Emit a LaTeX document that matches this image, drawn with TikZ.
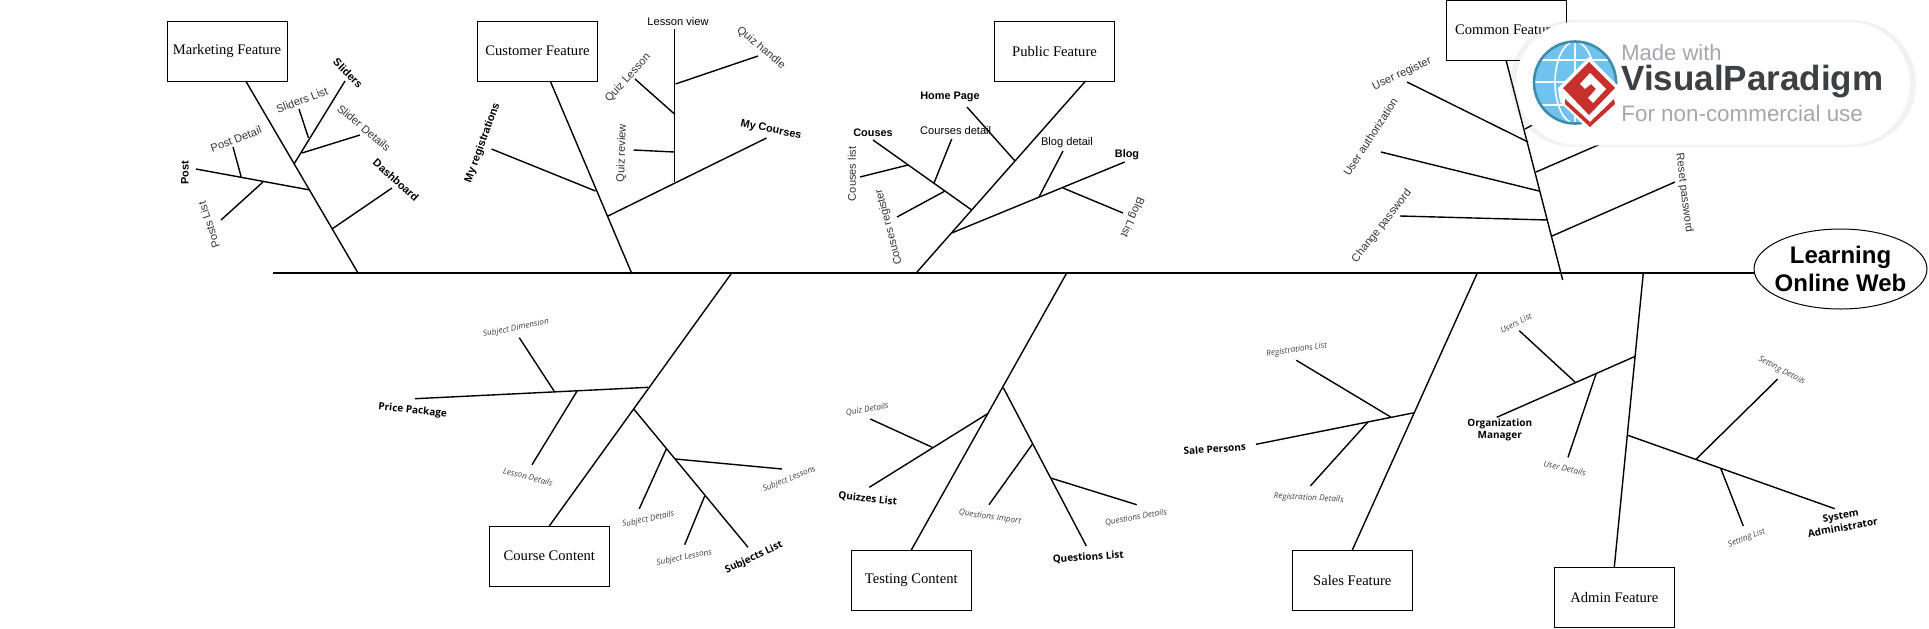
\documentclass[tikz,border=0pt]{standalone}
\usepackage{fontspec}
\setmainfont{Liberation Sans}
\newfontfamily\boxfont{Liberation Serif}
\newfontfamily\opensans{Open Sans}
\usetikzlibrary{shapes.geometric,shadows}
\definecolor{vpblue}{HTML}{6FC3EE}
\definecolor{vpring}{HTML}{3F8CAB}
\definecolor{vpred}{HTML}{C8302E}
\definecolor{vpdark}{HTML}{3C4043}
\definecolor{vpgray}{HTML}{A4A8AC}
\tikzset{
  boxnode/.style={draw,line width=.5pt,minimum width=60pt,minimum height=30pt,inner sep=0pt,outer sep=0pt,font=\boxfont\fontsize{7.3}{9}\selectfont},
  lbl/.style={inner sep=0pt,text=black!80,font=\fontsize{5.55}{7}\selectfont},
  lblb/.style={inner sep=0pt,font=\bfseries\fontsize{5.45}{7}\selectfont},
  sub/.style={inner sep=0pt,text=black!75,font=\opensans\itshape\fontsize{4.1}{5}\selectfont},
  subb/.style={inner sep=0pt,align=center,font=\opensans\bfseries\fontsize{5}{6}\selectfont},
  bone/.style={line width=.7pt}
}
\begin{document}
\begin{tikzpicture}[x=0.5pt,y=-0.5pt]
\useasboundingbox (0,0) rectangle (1929,628);
\coordinate (tail) at (273,273);
\node[ellipse,draw,line width=.5pt,minimum width=86.5pt,minimum height=40pt,inner sep=0pt,align=center,font=\bfseries\fontsize{12}{14}\selectfont] (web) at (1840.5,269) {\makebox[58pt]{Learning}\\\makebox[58pt]{Online Web}};
\draw[bone] (tail)--(tail -| web.west);
\node[boxnode] (marketing) at (227,51) {Marketing Feature};
\node[boxnode] (customer) at (537.5,51) {Customer Feature};
\node[boxnode] (public) at (1054.5,51) {Public Feature};
\node[boxnode] (common) at (1506,30) {Common Feature};
\node[boxnode] (course) at (549.3,556) {Course Content};
\node[boxnode] (testing) at (911.3,580) {Testing Content};
\node[boxnode] (sales) at (1352.3,580) {Sales Feature};
\node[boxnode] (admin) at (1614.3,597) {Admin Feature};
\coordinate (mkend) at (358,273);
\draw[bone] (marketing.-58)--(mkend);
\coordinate (csend) at (632,274);
\draw[bone] (customer.-67)--(csend);
\coordinate (pbend) at (917,272);
\draw[bone] (public.-44.5)--(pbend);
\coordinate (cmend) at (1562.7,280);
\draw[bone] (common.south)--(cmend);
\coordinate (coend) at (731.7,273);
\draw[bone] (course.north)--(coend);
\coordinate (tsend) at (1066.7,273);
\draw[bone] (testing.north)--(tsend);
\coordinate (slend) at (1477.3,273);
\draw[bone] (sales.north)--(slend);
\coordinate (adend) at (1643.3,273);
\draw[bone] (admin.north)--(adend);
\node[lblb,rotate=-45] (sliders) at (348,73) {Sliders};
\coordinate (slidersa) at (294,164);
\coordinate (slidersb) at (345,81);
\draw[bone] (slidersa)--(slidersb);
\node[lbl,rotate=21] (sliderslist) at (302,100) {Sliders List};
\coordinate (sliderslista) at (299,109);
\coordinate (sliderslistb) at (308.5,138);
\draw[bone] (sliderslista)--(sliderslistb);
\node[lbl,rotate=-40] (sliderdet) at (364,128) {Slider Details};
\coordinate (sliderdeta) at (302,153);
\coordinate (sliderdetb) at (360,135);
\draw[bone] (sliderdeta)--(sliderdetb);
\node[lblb,rotate=90] (post) at (185,173) {Post};
\coordinate (posta) at (196,169);
\coordinate (postb) at (310,190);
\draw[bone] (posta)--(postb);
\node[lbl,rotate=21] (postdet) at (236,139) {Post Detail};
\coordinate (postdeta) at (233,147);
\coordinate (postdetb) at (241.5,178);
\draw[bone] (postdeta)--(postdetb);
\node[lbl,rotate=108] (postlist) at (209,225) {Posts List};
\coordinate (postlista) at (221,220);
\coordinate (postlistb) at (263,182);
\draw[bone] (postlista)--(postlistb);
\node[lblb,rotate=-42] (dash) at (396,180) {Dashboard};
\coordinate (dasha) at (332,229);
\coordinate (dashb) at (392,188);
\draw[bone] (dasha)--(dashb);
\node[lblb,rotate=70] (myreg) at (482.6,143) {My registrations};
\coordinate (myrega) at (491.5,149);
\coordinate (myregb) at (595.5,191);
\draw[bone] (myrega)--(myregb);
\node[lblb,rotate=-12] (mycourses) at (771,130) {My Courses};
\coordinate (mycoursesa) at (608,216);
\coordinate (mycoursesb) at (766.5,138);
\draw[bone] (mycoursesa)--(mycoursesb);
\node[lbl,text=black] (lessonview) at (678,22) {Lesson view};
\coordinate (lessonviewa) at (674.5,29);
\coordinate (lessonviewb) at (674.5,182);
\draw[bone] (lessonviewa)--(lessonviewb);
\node[lbl,rotate=-40] (quizhandle) at (761,48) {Quiz handle};
\coordinate (quizhandlea) at (675.5,84);
\coordinate (quizhandleb) at (758,56);
\draw[bone] (quizhandlea)--(quizhandleb);
\node[lbl,rotate=48] (quizlesson) at (628,78) {Quiz Lesson};
\coordinate (quizlessona) at (635,79);
\coordinate (quizlessonb) at (674.5,114);
\draw[bone] (quizlessona)--(quizlessonb);
\node[lbl,rotate=88] (quizreview) at (622,153) {Quiz review};
\coordinate (quizreviewa) at (633.5,150);
\coordinate (quizreviewb) at (674.5,152);
\draw[bone] (quizreviewa)--(quizreviewb);
\node[lblb] (home) at (950,97) {Home Page};
\coordinate (homea) at (967,107);
\coordinate (homeb) at (1015,161);
\draw[bone] (homea)--(homeb);
\node[lbl,text=black] (coursesdet) at (955.7,131) {Courses detail};
\coordinate (coursesdeta) at (951.7,139);
\coordinate (coursesdetb) at (934,183);
\draw[bone] (coursesdeta)--(coursesdetb);
\node[lblb] (couses) at (873,133) {Couses};
\coordinate (cousesa) at (873,140);
\coordinate (cousesb) at (971.7,210);
\draw[bone] (cousesa)--(cousesb);
\node[lbl,rotate=90] (couseslist) at (852,174) {Couses list};
\coordinate (couseslista) at (860,177);
\coordinate (couseslistb) at (908,165);
\draw[bone] (couseslista)--(couseslistb);
\node[lbl,rotate=105] (cousesreg) at (889,227) {Couses register};
\coordinate (cousesrega) at (897,217);
\coordinate (cousesregb) at (945,191);
\draw[bone] (cousesrega)--(cousesregb);
\node[lblb] (blog) at (1127,155) {Blog};
\coordinate (bloga) at (951.7,233);
\coordinate (blogb) at (1124.7,162);
\draw[bone] (bloga)--(blogb);
\node[lbl,text=black] (blogdet) at (1067,143) {Blog detail};
\coordinate (blogdeta) at (1063,151);
\coordinate (blogdetb) at (1039,197);
\draw[bone] (blogdeta)--(blogdetb);
\node[lbl,rotate=246] (bloglist) at (1132,217) {Blog List};
\coordinate (bloglista) at (1063,188);
\coordinate (bloglistb) at (1123,213);
\draw[bone] (bloglista)--(bloglistb);
\node[lbl,rotate=25] (userreg) at (1402,74) {User register};
\coordinate (userrega) at (1407,82);
\coordinate (userregb) at (1528,142);
\draw[bone] (userrega)--(userregb);
\node[lbl,rotate=57] (userauth) at (1370.5,137) {User authorization};
\coordinate (userautha) at (1381,152);
\coordinate (userauthb) at (1539,191);
\draw[bone] (userautha)--(userauthb);
\node[lbl,rotate=52] (changepw) at (1382,226) {Change password};
\coordinate (changepwa) at (1400,216);
\coordinate (changepwb) at (1548,220);
\draw[bone] (changepwa)--(changepwb);
\node[lbl,rotate=-83] (resetpw) at (1684,193) {Reset password};
\coordinate (resetpwa) at (1552,236);
\coordinate (resetpwb) at (1675,182);
\draw[bone] (resetpwa)--(resetpwb);
\coordinate (hideaa) at (1536,172);
\coordinate (hideab) at (1612,139);
\draw[bone] (hideaa)--(hideab);
\coordinate (hideba) at (1525,129);
\coordinate (hidebb) at (1560,110);
\draw[bone] (hideba)--(hidebb);
\node[subb,rotate=-6] (price) at (412.7,410.7) {Price Package};
\coordinate (pricea) at (415,398.7);
\coordinate (priceb) at (648.3,387.3);
\draw[bone] (pricea)--(priceb);
\node[sub,rotate=11] (subdim) at (516,328.3) {Subject Dimension};
\coordinate (subdima) at (519.3,337.7);
\coordinate (subdimb) at (554.7,392);
\draw[bone] (subdima)--(subdimb);
\node[sub,rotate=-15] (lessondet) at (528,476.7) {Lesson Details};
\coordinate (lessondeta) at (532,464.7);
\coordinate (lessondetb) at (577.3,390.7);
\draw[bone] (lessondeta)--(lessondetb);
\node[subb,rotate=25] (sublist) at (754,557.7) {Subjects List};
\coordinate (sublista) at (634,409.3);
\coordinate (sublistb) at (748,547.3);
\draw[bone] (sublista)--(sublistb);
\node[sub,rotate=12] (subdet) at (648.3,519.3) {Subject Details};
\coordinate (subdeta) at (639.3,508.7);
\coordinate (subdetb) at (666.3,449);
\draw[bone] (subdeta)--(subdetb);
\node[sub,rotate=22] (sublesa) at (789.3,479.3) {Subject Lessons};
\coordinate (sublesaa) at (675.3,459);
\coordinate (sublesab) at (782,469);
\draw[bone] (sublesaa)--(sublesab);
\node[sub,rotate=11] (sublesb) at (684.3,557.7) {Subject Lessons};
\coordinate (sublesba) at (684.7,544.7);
\coordinate (sublesbb) at (704.7,496);
\draw[bone] (sublesba)--(sublesbb);
\node[subb,rotate=-6] (quizlist) at (867.7,499) {Quizzes List};
\coordinate (quizlista) at (869.3,487.3);
\coordinate (quizlistb) at (988.7,413);
\draw[bone] (quizlista)--(quizlistb);
\node[sub,rotate=9] (quizdet) at (867.3,409.3) {Quiz Details};
\coordinate (quizdeta) at (870.3,419);
\coordinate (quizdetb) at (932.3,447.3);
\draw[bone] (quizdeta)--(quizdetb);
\node[subb,rotate=4] (queslist) at (1088.3,557.3) {Questions List};
\coordinate (queslista) at (1003.3,387.7);
\coordinate (queslistb) at (1086.3,546);
\draw[bone] (queslista)--(queslistb);
\node[sub,rotate=-8] (quesimp) at (990,517.3) {Questions Import};
\coordinate (quesimpa) at (989,504.7);
\coordinate (quesimpb) at (1032.3,444.3);
\draw[bone] (quesimpa)--(quesimpb);
\node[sub,rotate=10] (quesdet) at (1136,517.7) {Questions Details};
\coordinate (quesdeta) at (1050.7,478);
\coordinate (quesdetb) at (1136.7,504.7);
\draw[bone] (quesdeta)--(quesdetb);
\node[subb,rotate=4] (salepers) at (1214.7,449) {Sale Persons};
\coordinate (salepersa) at (1256,444.3);
\coordinate (salepersb) at (1414.3,412.7);
\draw[bone] (salepersa)--(salepersb);
\node[sub,rotate=8] (reglist) at (1296.7,350) {Registrations List};
\coordinate (reglista) at (1296.3,360.3);
\coordinate (reglistb) at (1390.7,417);
\draw[bone] (reglista)--(reglistb);
\node[sub,rotate=-3] (regdet) at (1308.7,498.3) {Registration Details};
\coordinate (regdeta) at (1310.3,486);
\coordinate (regdetb) at (1367.7,422.3);
\draw[bone] (regdeta)--(regdetb);
\node[subb] (orgman) at (1499.7,430) {Organization\\Manager};
\coordinate (orgmana) at (1496.7,417.3);
\coordinate (orgmanb) at (1635.3,356.3);
\draw[bone] (orgmana)--(orgmanb);
\node[sub,rotate=28] (userlist) at (1516,323.3) {Users List};
\coordinate (userlista) at (1519.3,330.7);
\coordinate (userlistb) at (1575,382);
\draw[bone] (userlista)--(userlistb);
\node[sub,rotate=-13] (userdet) at (1564.7,468.3) {User Details};
\coordinate (userdeta) at (1568,457.3);
\coordinate (userdetb) at (1596,374);
\draw[bone] (userdeta)--(userdetb);
\node[subb,rotate=10] (sysadmin) at (1841.7,521.7) {System\\Administrator};
\coordinate (sysadmina) at (1627,435);
\coordinate (sysadminb) at (1834.7,508.7);
\draw[bone] (sysadmina)--(sysadminb);
\node[sub,rotate=-28] (setdet) at (1781.7,370.7) {Setting Details};
\coordinate (setdeta) at (1777.7,379);
\coordinate (setdetb) at (1696,459.3);
\draw[bone] (setdeta)--(setdetb);
\node[sub,rotate=21] (setlist) at (1746.7,538.3) {Setting List};
\coordinate (setlista) at (1743.3,526);
\coordinate (setlistb) at (1720.7,468.3);
\draw[bone] (setlista)--(setlistb);
\node[fill=white,draw=black!3,rounded corners=30.7pt,minimum width=197pt,minimum height=61.5pt,inner sep=0pt,drop shadow={shadow xshift=0pt,shadow yshift=0pt,opacity=.1,shadow scale=1.03}] (pill) at (1713,83.5) {};
\fill[vpblue] (1575,82.5) circle [radius=41];
\draw[white,thick] (1575,82.5) ellipse [x radius=20,y radius=41];
\draw[white,thick] (1575,42)--(1575,123);
\draw[white,thick] (1542,60)--(1608,60);
\draw[white,thick] (1535,82)--(1615,82);
\draw[white,thick] (1542,105)--(1608,105);
\draw[vpring,line width=1.3pt] (1575,82.5) circle [radius=41];
\fill[white] (1589,57)--(1620,88)--(1620,102)--(1590,131)--(1560,102)--(1558,88)--cycle;
\fill[vpred] (1565,99)--(1590,122)--(1614,99)--(1615,104)--(1590,127)--(1565,104)--cycle;
\fill[vpred] (1589,62)--(1615,88)--(1589,115)--(1563,88)--cycle;
\fill[white] (1580,84)--(1590,73)--(1606,89)--(1593,103)--(1588,98)--(1596,89)--(1591,84)--(1585,89)--cycle;
\node[inner sep=0pt,anchor=west,text=vpgray,font=\fontsize{11}{13}\selectfont] (madewith) at (1621,53) {Made with};
\node[inner sep=0pt,anchor=west,text=vpdark,font=\bfseries\fontsize{17.5}{20}\selectfont] (vpname) at (1621,82) {VisualParadigm};
\node[inner sep=0pt,anchor=west,text=vpgray,font=\fontsize{11.2}{13}\selectfont] (noncomm) at (1621,113) {For non-commercial use};
\end{tikzpicture}
\end{document}
